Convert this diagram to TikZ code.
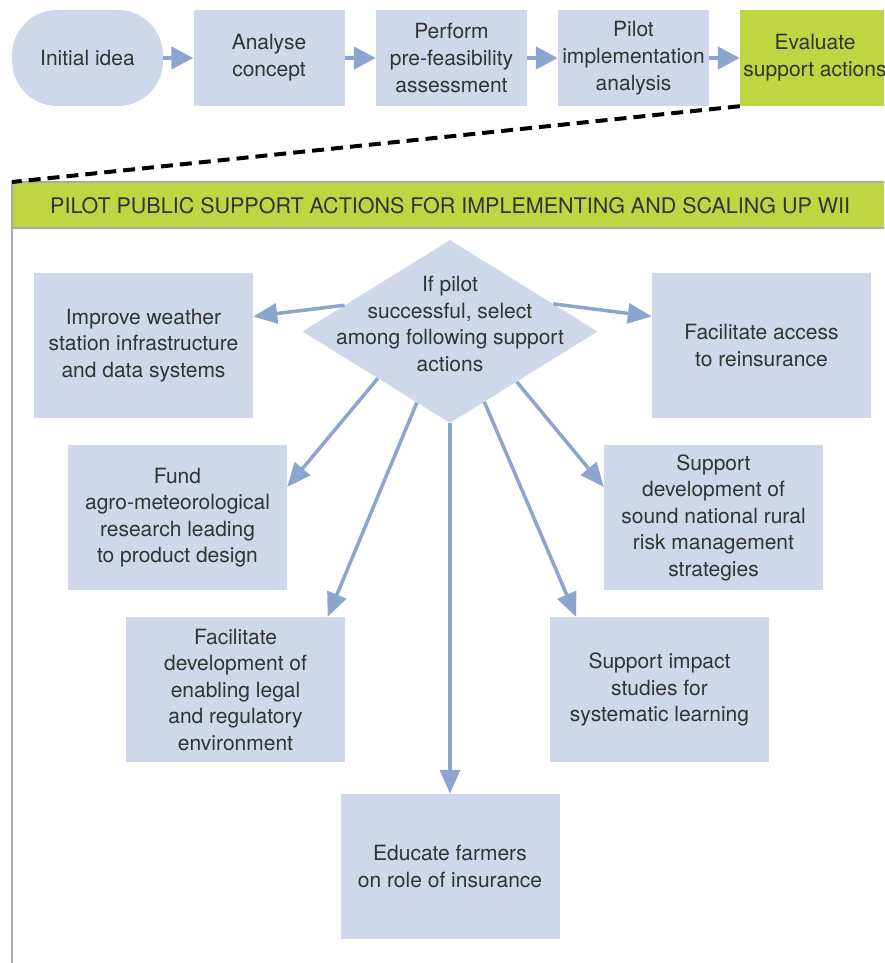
\documentclass[tikz,border=0pt]{standalone}
\usepackage{fontspec}
\setmainfont{TeX Gyre Heros}
\usetikzlibrary{calc}
\usetikzlibrary{shapes.geometric}
\usetikzlibrary{arrows.meta}
\definecolor{boxblue}{HTML}{CED8EA}
\definecolor{arrowblue}{HTML}{8BA5CF}
\definecolor{leafgreen}{HTML}{BFD642}
\definecolor{framegray}{HTML}{AAAAAA}
\definecolor{textgray}{HTML}{333333}
\newcommand*{\bwd}{219pt}
\newcommand*{\bht}{145pt}
\newcommand*{\twd}{151pt}
\newcommand*{\tht}{96pt}

\begin{document}
\begin{tikzpicture}[x=1pt, y=-1pt, font=\fontsize{21}{26.5}\selectfont, text=textgray,
    stage/.style={fill=boxblue, minimum width=\twd, minimum height=\tht, align=center, inner sep=0pt, font=\fontsize{21}{27}\selectfont},
    action/.style={fill=boxblue, minimum width=\bwd, minimum height=\bht, align=center, inner sep=0pt},
    flow/.style={draw=arrowblue, line width=4.5pt, -{Triangle[length=22pt,width=22pt]}},
    branch/.style={draw=arrowblue, line width=3.5pt, -{Triangle[length=24pt,width=20pt]}}]
        \useasboundingbox (0,0) rectangle (884,963);
        \clip (0,0) rectangle (884,963);
        \node [stage, rounded corners=45pt] (idea)    at ( 87.5,58) {Initial idea};
        \node [stage] (analyse) at (269,58) {Analyse\\concept};
        \node [stage] (perform) at (451.5,58) {Perform\\pre-feasibility\\assessment};
        \node [stage] (pilot)   at (633.5,58) {Pilot\\implementation\\analysis};
        \node [stage, fill=leafgreen, minimum width=150pt] (evaluate) at (815,58) {Evaluate\\support actions};
        \draw [flow] (idea.east)    -- (analyse.west);
        \draw [flow] (analyse.east) -- (perform.west);
        \draw [flow] (perform.east) -- (pilot.west);
        \draw [flow] (pilot.east)   -- (evaluate.west);
        \node [fill=leafgreen, minimum width=876pt, minimum height=46pt, inner sep=0pt, anchor=north west, font=\fontsize{21.5}{25}\selectfont] (header) at (12,182) {PILOT PUBLIC SUPPORT ACTIONS FOR IMPLEMENTING AND SCALING UP WII};
        \draw [framegray, line width=2pt] (12,963) -- (header.north west) -- ++(880,0);
        \draw [framegray, line width=2pt] (header.south west) -- ++(880,0);
        \draw [line width=4pt, dash pattern=on 12pt off 7pt] (evaluate.south west) -- (header.north west);
        \node [diamond, fill=boxblue, minimum width=295pt, minimum height=183pt, inner sep=0pt] (choice) at (450,331.5) {};
        \node [align=center] (ask) at (450,324) {If pilot\\successful, select\\among following support\\actions};
        \node [action] (weather)   at (143.5,345.5) {Improve weather\\station infrastructure\\and data systems};
        \node [action] (reinsure)  at (761.5,345.5) {Facilitate access\\to reinsurance};
        \node [action] (research)  at (177.5,517.5) {Fund\\agro-meteorological\\research leading\\to product design};
        \node [action] (strategy)  at (713.5,517.5) {Support\\development of\\sound national rural\\risk management\\strategies};
        \node [action] (legal)     at (235.5,689.5) {Facilitate\\development of\\enabling legal\\and regulatory\\environment};
        \node [action] (impact)    at (659.5,689.5) {Support impact\\studies for\\systematic learning};
        \node [action] (educate)   at (450,866.5) {Educate farmers\\on role of insurance};
        \draw [branch] (choice.166) -- ($(weather.north east)!0.3!(weather.south east)$);
        \draw [branch] (choice.15)  -- ($(reinsure.north west)!0.3!(reinsure.south west)$);
        \draw [branch] (choice.213) -- ($(research.north east)!0.29!(research.south east)$);
        \draw [branch] (choice.323) -- ($(strategy.north west)!0.29!(strategy.south west)$);
        \draw [branch] (choice.245) -- ($(legal.north west)!0.92!(legal.north east)$);
        \draw [branch] (choice.296) -- ($(impact.north west)!0.12!(impact.north east)$);
        \draw [branch] (choice.south) -- (educate.north);
    \end{tikzpicture}
\end{document}
